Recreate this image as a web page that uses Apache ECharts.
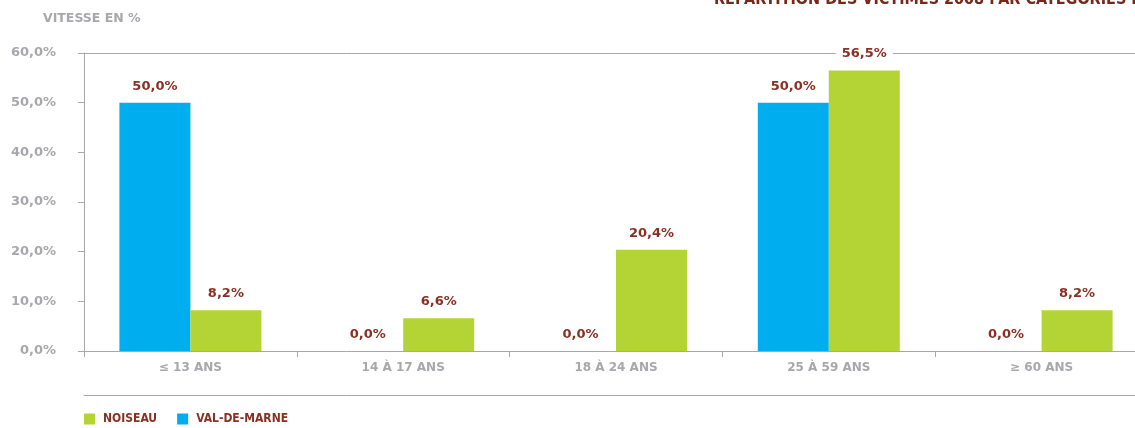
<!DOCTYPE html>
<html>
<head>
<meta charset="utf-8">
<script src="https://cdn.jsdelivr.net/npm/echarts@6/dist/echarts.min.js"></script>
<style>
  html, body { margin: 0; padding: 0; background: #fff; }
  #chart { width: 1135px; height: 428px; }
</style>
</head>
<body>
<div id="chart"></div>
<script>
// age groups on the x axis
const categories = ['≤ 13 ANS', '14 À 17 ANS', '18 À 24 ANS', '25 À 59 ANS', '≥ 60 ANS'];
// share of victims, in %
const valDeMarne = [50.0, 0.0, 0.0, 50.0, 0.0];
const noiseau = [8.2, 6.6, 20.4, 56.5, 8.2];

const GRAY = '#a7a7ac';
const RED = '#8a3022';
const NARROW = "'DejaVu Sans Condensed', 'Liberation Sans Narrow', 'Liberation Sans', sans-serif";
const fmt = v => v.toFixed(1).replace('.', ',') + '%';

const chart = echarts.init(document.getElementById('chart'));

const labelStyle = {
  show: true,
  position: 'top',
  distance: 10,
  formatter: p => fmt(p.value),
  color: RED,
  fontFamily: 'DejaVu Sans',
  fontWeight: 'bold',
  fontSize: 13,
  backgroundColor: '#fff',
  padding: [0, 6]
};

chart.setOption({
  animation: false,
  backgroundColor: '#fff',
  title: [
    {
      text: "RÉPARTITION DES VICTIMES 2008 PAR CATÉGORIES D'ÂGE",
      left: 714,
      top: -8,
      padding: 0,
      textStyle: {
        color: '#7a2618',
        fontFamily: NARROW,
        fontWeight: 'bold',
        fontSize: 16
      }
    },
    {
      text: 'VITESSE EN %',
      left: 43,
      top: 12,
      padding: 0,
      textStyle: {
        color: GRAY,
        fontFamily: 'DejaVu Sans',
        fontWeight: 'bold',
        fontSize: 12.5
      }
    }
  ],
  legend: {
    data: ['NOISEAU', 'VAL-DE-MARNE'],
    left: 84,
    top: 413,
    padding: 0,
    icon: 'rect',
    itemWidth: 11,
    itemHeight: 11,
    itemGap: 20,
    textStyle: {
      color: RED,
      fontFamily: NARROW,
      fontWeight: 'bold',
      fontSize: 12,
      padding: [0, 0, 0, 3]
    }
  },
  grid: {
    left: 84, width: 1064, top: 53, bottom: 77,
    containLabel: false, outerBoundsMode: 'none'
  },
  xAxis: [
    {
      type: 'category',
      data: categories,
      position: 'bottom',
      axisLine: { lineStyle: { color: GRAY, width: 1 } },
      axisTick: { show: true, length: 6, lineStyle: { color: GRAY } },
      axisLabel: {
        color: GRAY,
        fontFamily: 'DejaVu Sans',
        fontWeight: 'bold',
        fontSize: 12,
        margin: 11
      }
    },
    {
      type: 'category',
      data: categories,
      position: 'top',
      axisLine: { lineStyle: { color: GRAY, width: 1 } },
      axisTick: { show: false },
      axisLabel: { show: false }
    },
    {
      type: 'category',
      data: categories,
      position: 'bottom',
      offset: 44,
      axisLine: { lineStyle: { color: GRAY, width: 1 } },
      axisTick: { show: false },
      axisLabel: { show: false }
    }
  ],
  yAxis: {
    type: 'value',
    min: 0,
    max: 60,
    interval: 10,
    axisLine: { show: true, lineStyle: { color: GRAY, width: 1 } },
    axisTick: { show: true, length: 6, lineStyle: { color: GRAY } },
    splitLine: { show: false },
    axisLabel: {
      formatter: fmt,
      color: GRAY,
      fontFamily: 'DejaVu Sans',
      fontWeight: 'bold',
      fontSize: 13,
      margin: 28
    }
  },
  series: [
    {
      name: 'VAL-DE-MARNE',
      type: 'bar',
      data: valDeMarne,
      barWidth: 71,
      barGap: '0%',
      itemStyle: { color: '#00aeef' },
      label: labelStyle
    },
    {
      name: 'NOISEAU',
      type: 'bar',
      data: noiseau,
      barWidth: 71,
      barGap: '0%',
      itemStyle: { color: '#b4d334' },
      label: labelStyle,
      z: 3
    }
  ]
});
</script>
</body>
</html>
